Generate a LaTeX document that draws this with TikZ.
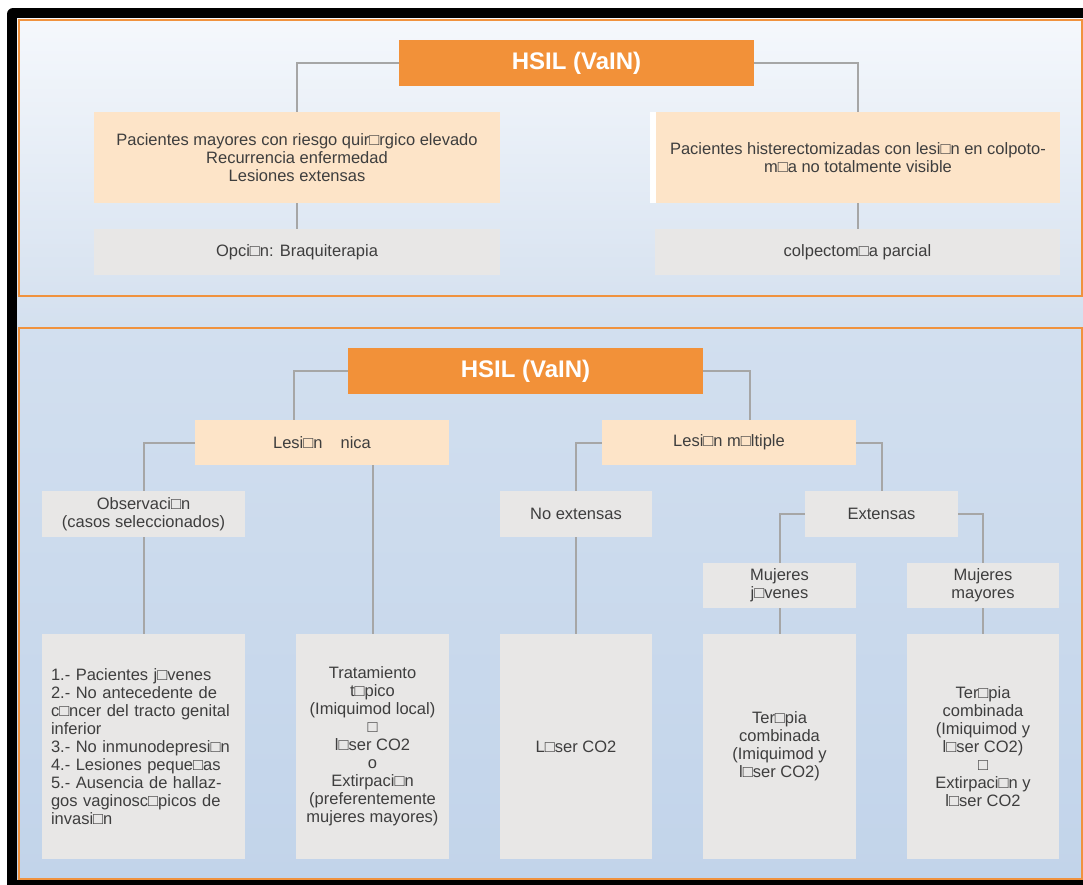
\documentclass[tikz,border=0pt]{standalone}
\usepackage{fontspec}
\setmainfont{Liberation Sans}
\definecolor{hsilorange}{RGB}{242,145,57}
\definecolor{peach}{RGB}{253,228,200}
\definecolor{boxgray}{RGB}{232,231,230}
\definecolor{linegray}{RGB}{166,166,166}
\definecolor{txtgray}{RGB}{62,62,62}
\definecolor{panelorange}{RGB}{240,146,62}
\newcommand{\bodyfont}{\fontsize{16.5}{18}\selectfont}
\begin{document}
\begin{tikzpicture}[x=1pt,y=-1pt,
  hsil/.style={fill=hsilorange, text=white, font=\fontsize{24}{28}\selectfont\bfseries, minimum width=355pt, minimum height=46pt},
  peachbox/.style={fill=peach, text=txtgray, font=\bodyfont, align=center, inner sep=0pt},
  graybox/.style={fill=boxgray, text=txtgray, font=\bodyfont, align=center, inner sep=0pt},
  conn/.style={draw=linegray, line width=2pt},
  panel/.style={draw=panelorange, line width=2pt}]
\useasboundingbox (0,0) rectangle (1083,884);
\begin{scope}
\clip (0,0) rectangle (1083,884);
\fill[white] (0,0) rectangle (1083,884);
\fill[black, rounded corners=6pt] (7,8) rectangle (1100,900);
\shade[top color={rgb,255:red,245;green,248;blue,252}, bottom color={rgb,255:red,212;green,224;blue,239}] (17,18) rectangle (1083,327);
\shade[top color={rgb,255:red,210;green,223;blue,239}, middle color={rgb,255:red,172;green,196;blue,226}, bottom color={rgb,255:red,194;green,212;blue,234}] (17,327) rectangle (1083,879);
\draw[panel] (18.5,19.5) rectangle (1081.5,295.5);
\draw[panel] (18.5,327.5) rectangle (1081.5,879);
\end{scope}

\node[hsil] (h1) at (576.5,63) {HSIL (VaIN)};
\node[peachbox, minimum width=406pt, minimum height=91pt] (p1) at (297,157.5) {Pacientes mayores con riesgo quir□rgico elevado\\Recurrencia enfermedad\\Lesiones extensas};
\node[peachbox, minimum width=404pt, minimum height=91pt] (p2) at (858,157.5) {Pacientes histerectomizadas con lesi□n en colpoto-\\m□a no totalmente visible};
\fill[white] ([xshift=-6pt]p2.north west) rectangle (p2.south west);
\node[graybox, minimum width=406pt, minimum height=46pt] (o1) at (297,252) {Opci□n: Braquiterapia};
\node[graybox, minimum width=405pt, minimum height=46pt] (o2) at (857.5,252) {colpectom□a parcial};
\draw[conn] (h1.west) -| (p1.north);
\draw[conn] (h1.east) -| (p2.north);
\draw[conn] (p1.south) -- (o1.north);
\draw[conn] (p2.south) -- (p2.south |- o2.north);

\node[hsil] (h2) at (525.5,371) {HSIL (VaIN)};
\node[peachbox, minimum width=254pt, minimum height=45pt] (u) at (322,442.5) {Lesi□n\hspace{1.1em}nica};
\node[peachbox, minimum width=254pt, minimum height=45pt] (m) at (729,442.5) {Lesi□n m□ltiple};
\node[graybox, minimum width=203pt, minimum height=46pt] (ob) at (143.5,514) {Observaci□n\\(casos seleccionados)};
\node[graybox, minimum width=152pt, minimum height=46pt] (ne) at (576,514) {No extensas};
\node[graybox, minimum width=153pt, minimum height=46pt] (ex) at (881.5,514) {Extensas};
\node[graybox, minimum width=153pt, minimum height=45pt] (mj) at (779.5,585.5) {Mujeres\\j□venes};
\node[graybox, minimum width=152pt, minimum height=45pt] (mm) at (983,585.5) {Mujeres\\mayores};
\node[graybox, align=left, text width=185pt, inner sep=9pt, minimum height=225pt] (b1) at (143.5,746.5) {1.- Pacientes j□venes\\2.- No antecedente de\\c□ncer del tracto genital\\inferior\\3.- No inmunodepresi□n\\4.- Lesiones peque□as\\5.- Ausencia de hallaz-\\gos vaginosc□picos de\\invasi□n};
\node[graybox, minimum width=153pt, minimum height=225pt] (b2) at (372.5,746.5) {Tratamiento\\t□pico\\(Imiquimod local)\\□\\l□ser CO2\\o\\Extirpaci□n\\(preferentemente\\mujeres mayores)};
\node[graybox, minimum width=152pt, minimum height=225pt] (b3) at (576,746.5) {L□ser CO2};
\node[graybox, minimum width=153pt, minimum height=225pt] (b4) at (779.5,746.5) {Ter□pia\\combinada\\(Imiquimod y\\l□ser CO2)};
\node[graybox, minimum width=152pt, minimum height=225pt] (b5) at (983,746.5) {Ter□pia\\combinada\\(Imiquimod y\\l□ser CO2)\\□\\Extirpaci□n y\\l□ser CO2};
\draw[conn] (h2.west) -| ([xshift=-28pt]u.north);
\draw[conn] (h2.east) -| ([xshift=21pt]m.north);
\draw[conn] (u.west) -| (ob.north);
\draw[conn] (ob.south) -- (b1.north);
\draw[conn] (u.south -| b2.north) -- (b2.north);
\draw[conn] (m.west) -| (ne.north);
\draw[conn] (m.east) -| (ex.north);
\draw[conn] (ne.south) -- (b3.north);
\draw[conn] (ex.west) -| (mj.north);
\draw[conn] (ex.east) -| (mm.north);
\draw[conn] (mj.south) -- (b4.north);
\draw[conn] (mm.south) -- (b5.north);
\end{tikzpicture}
\end{document}
